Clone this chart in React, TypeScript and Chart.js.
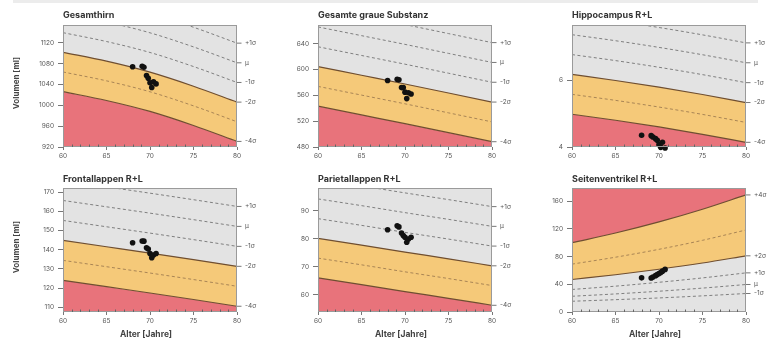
import React, { useEffect, useRef } from 'react';
import { Chart, registerables } from 'chart.js';

Chart.register(...registerables);

// ---------- data ----------
const NORM_AGES = [60, 65, 70, 75, 80];
const PATIENT_AGES = [68.0, 69.1, 69.3, 69.6, 69.8, 70.0, 70.2, 70.4, 70.7];
const X_TICKS = [60, 65, 70, 75, 80];

// Gesamthirn
const GH_PLUS1 = [1214.7, 1197.7, 1176.7, 1149.7, 1119.2];
const GH_MU = [1177, 1160, 1139, 1112, 1081.5];
const GH_MINUS1 = [1139.3, 1122.3, 1101.3, 1074.3, 1043.8];
const GH_MINUS2 = [1101.6, 1084.6, 1063.6, 1036.6, 1006.1];
const GH_MINUS3 = [1063.9, 1046.9, 1025.9, 998.9, 968.4];
const GH_MINUS4 = [1026.2, 1009.2, 988.2, 961.2, 930.7];
const GH_PATIENT = [1074, 1075, 1073, 1057, 1052, 1043, 1034, 1045, 1041];
const GH_Y_TICKS = [920, 960, 1000, 1040, 1080, 1120];
const GH_Y_RANGE = [920, 1154];

// Gesamte graue Substanz
const GS_PLUS1 = [696.7, 683.2, 669.7, 655.7, 641.7];
const GS_MU = [666, 652.5, 639, 625, 611];
const GS_MINUS1 = [635.3, 621.8, 608.3, 594.3, 580.3];
const GS_MINUS2 = [604.6, 591.1, 577.6, 563.6, 549.6];
const GS_MINUS3 = [573.9, 560.4, 546.9, 532.9, 518.9];
const GS_MINUS4 = [543.2, 529.7, 516.2, 502.2, 488.2];
const GS_PATIENT = [583, 585, 584, 572, 572, 565, 555, 564, 562];
const GS_Y_TICKS = [480, 520, 560, 600, 640];
const GS_Y_RANGE = [480, 669];

// Hippocampus R+L
const HC_PLUS1 = [7.955, 7.775, 7.575, 7.355, 7.115];
const HC_MU = [7.36, 7.18, 6.98, 6.76, 6.52];
const HC_MINUS1 = [6.765, 6.585, 6.385, 6.165, 5.925];
const HC_MINUS2 = [6.17, 5.99, 5.79, 5.57, 5.33];
const HC_MINUS3 = [5.575, 5.395, 5.195, 4.975, 4.735];
const HC_MINUS4 = [4.98, 4.8, 4.6, 4.38, 4.14];
const HC_PATIENT = [4.35, 4.34, 4.3, 4.25, 4.2, 4.07, 3.99, 4.14, 3.97];
const HC_Y_TICKS = [4, 6];
const HC_Y_RANGE = [4, 7.65];

// Frontallappen R+L
const FL_PLUS1 = [176, 172.7, 169.4, 166, 162.5];
const FL_MU = [165.6, 162.3, 159, 155.6, 152.1];
const FL_MINUS1 = [155.2, 151.9, 148.6, 145.2, 141.7];
const FL_MINUS2 = [144.8, 141.5, 138.2, 134.8, 131.3];
const FL_MINUS3 = [134.4, 131.1, 127.8, 124.4, 120.9];
const FL_MINUS4 = [124, 120.7, 117.4, 114, 110.5];
const FL_PATIENT = [143.6, 144.5, 144.4, 141, 140.3, 138, 135.8, 137.2, 138];
const FL_Y_TICKS = [110, 120, 130, 140, 150, 160, 170];
const FL_Y_RANGE = [107.5, 172.1];

// Parietallappen R+L
const PL_PLUS1 = [101.25, 98.85, 96.35, 93.95, 91.45];
const PL_MU = [94.2, 91.8, 89.3, 86.9, 84.4];
const PL_MINUS1 = [87.15, 84.75, 82.25, 79.85, 77.35];
const PL_MINUS2 = [80.1, 77.7, 75.2, 72.8, 70.3];
const PL_MINUS3 = [73.05, 70.65, 68.15, 65.75, 63.25];
const PL_MINUS4 = [66, 63.6, 61.1, 58.7, 56.2];
const PL_PATIENT = [83.2, 84.6, 84.2, 82, 81.1, 80.5, 78.7, 79.9, 80.5];
const PL_Y_TICKS = [60, 70, 80, 90];
const PL_Y_RANGE = [53.8, 98.1];

// Seitenventrikel R+L
const SV_PLUS4 = [100, 114, 130, 148.3, 169];
const SV_PLUS3 = [69.1, 79.1, 90.5, 103.5, 118.4];
const SV_PLUS2 = [46.9, 53.8, 61.7, 70.7, 81.1];
const SV_PLUS1 = [32.5, 37.3, 42.9, 49.2, 56.5];
const SV_MU = [22.7, 26.1, 30.0, 34.5, 39.7];
const SV_MINUS1 = [15.5, 17.8, 20.3, 23.3, 26.7];
const SV_PATIENT = [49.3, 49, 50.5, 52.5, 54, 55.5, 57, 59, 61.5];
const SV_Y_TICKS = [0, 40, 80, 120, 160];
const SV_Y_RANGE = [0, 179];

// ---------- styles ----------
const FONT = 'Inter, "Noto Sans", sans-serif';
const GRAY = '#e3e3e3';
const ORANGE = '#f5c979';
const RED = '#e8737b';
const SOLID = '#6f4e30';
const DASH = '#7f7f7f';
const WARM = '#a98555';

type Kind = 'dash' | 'warm' | 'solid';
interface Curve { values: number[]; kind: Kind; label?: string; fill?: number | string | false; fillColor?: string }
interface Panel {
  title: string; col: number; row: number;
  yRange: number[]; yTicks: number[]; curves: Curve[]; patient: number[];
}

const COLS = [
  { left: 0, width: 275, plotLeft: 63, plotRight: 237 },
  { left: 258, width: 275, plotLeft: 318, plotRight: 492 },
  { left: 512, width: 257, plotLeft: 572, plotRight: 746 },
];
const ROWS = [
  { top: 0, height: 170, plotTop: 25, plotBottom: 147, titleY: 15 },
  { top: 170, height: 176, plotTop: 188, plotBottom: 312, titleY: 179.5 },
];

function lowCurves(p1: number[], mu: number[], m1: number[], m2: number[], m3: number[], m4: number[]): Curve[] {
  return [
    { values: p1, kind: 'dash', label: '+1σ' },
    { values: mu, kind: 'dash', label: 'μ' },
    { values: m1, kind: 'dash', label: '-1σ' },
    { values: m2, kind: 'solid', label: '-2σ', fill: 5, fillColor: ORANGE },
    { values: m3, kind: 'warm' },
    { values: m4, kind: 'solid', label: '-4σ', fill: 'start', fillColor: RED },
  ];
}

const PANELS: Panel[] = [
  { title: 'Gesamthirn', col: 0, row: 0, yRange: GH_Y_RANGE, yTicks: GH_Y_TICKS, patient: GH_PATIENT,
    curves: lowCurves(GH_PLUS1, GH_MU, GH_MINUS1, GH_MINUS2, GH_MINUS3, GH_MINUS4) },
  { title: 'Gesamte graue Substanz', col: 1, row: 0, yRange: GS_Y_RANGE, yTicks: GS_Y_TICKS, patient: GS_PATIENT,
    curves: lowCurves(GS_PLUS1, GS_MU, GS_MINUS1, GS_MINUS2, GS_MINUS3, GS_MINUS4) },
  { title: 'Hippocampus R+L', col: 2, row: 0, yRange: HC_Y_RANGE, yTicks: HC_Y_TICKS, patient: HC_PATIENT,
    curves: lowCurves(HC_PLUS1, HC_MU, HC_MINUS1, HC_MINUS2, HC_MINUS3, HC_MINUS4) },
  { title: 'Frontallappen R+L', col: 0, row: 1, yRange: FL_Y_RANGE, yTicks: FL_Y_TICKS, patient: FL_PATIENT,
    curves: lowCurves(FL_PLUS1, FL_MU, FL_MINUS1, FL_MINUS2, FL_MINUS3, FL_MINUS4) },
  { title: 'Parietallappen R+L', col: 1, row: 1, yRange: PL_Y_RANGE, yTicks: PL_Y_TICKS, patient: PL_PATIENT,
    curves: lowCurves(PL_PLUS1, PL_MU, PL_MINUS1, PL_MINUS2, PL_MINUS3, PL_MINUS4) },
  { title: 'Seitenventrikel R+L', col: 2, row: 1, yRange: SV_Y_RANGE, yTicks: SV_Y_TICKS, patient: SV_PATIENT,
    curves: [
      { values: SV_PLUS4, kind: 'solid', label: '+4σ', fill: 'end', fillColor: RED },
      { values: SV_PLUS3, kind: 'warm' },
      { values: SV_PLUS2, kind: 'solid', label: '+2σ', fill: 0, fillColor: ORANGE },
      { values: SV_PLUS1, kind: 'dash', label: '+1σ' },
      { values: SV_MU, kind: 'dash', label: 'μ' },
      { values: SV_MINUS1, kind: 'dash', label: '-1σ' },
    ] },
];

function PanelChart({ p }: { p: Panel }) {
  const ref = useRef<HTMLCanvasElement>(null);
  const col = COLS[p.col];
  const row = ROWS[p.row];

  useEffect(() => {
    const canvas = ref.current!;
    const datasets: any[] = p.curves.map((c) => ({
      type: 'line',
      data: NORM_AGES.map((a, i) => ({ x: a, y: c.values[i] })),
      borderColor: c.kind === 'solid' ? SOLID : c.kind === 'warm' ? WARM : DASH,
      borderWidth: c.kind === 'solid' ? 1.2 : 1,
      borderDash: c.kind === 'solid' ? [] : [3, 2.5],
      pointRadius: 0,
      cubicInterpolationMode: 'monotone',
      fill: c.fill ?? false,
      backgroundColor: c.fillColor ?? 'transparent',
      order: 1,
    }));
    datasets.push({
      type: 'scatter',
      data: PATIENT_AGES.map((a, i) => ({ x: a, y: p.patient[i] })),
      pointRadius: 2.8,
      backgroundColor: '#111',
      borderColor: '#111',
      borderWidth: 0,
      clip: false,
      order: 0,
    });

    const deco = {
      id: 'deco',
      beforeDraw(chart: any) {
        const { ctx, chartArea: a } = chart;
        ctx.save();
        ctx.fillStyle = GRAY;
        ctx.fillRect(a.left, a.top, a.right - a.left, a.bottom - a.top);
        ctx.restore();
      },
      afterDatasetsDraw(chart: any) {
        const { ctx, chartArea: a } = chart;
        const xs = chart.scales.x;
        const ys = chart.scales.y;
        ctx.save();
        // frame
        ctx.strokeStyle = '#9a9a9a';
        ctx.lineWidth = 1;
        ctx.strokeRect(a.left + 0.5, a.top + 0.5, a.right - a.left - 1, a.bottom - a.top - 1);
        // minor ticks
        ctx.strokeStyle = '#666';
        for (let v = 61; v < 80; v++) {
          if (v % 5 === 0) continue;
          const x = Math.round(xs.getPixelForValue(v)) + 0.5;
          ctx.beginPath();
          ctx.moveTo(x, a.bottom);
          ctx.lineTo(x, a.bottom - 2.5);
          ctx.stroke();
        }
        // right labels
        ctx.font = `6.5px ${FONT}`;
        ctx.fillStyle = '#555';
        ctx.textBaseline = 'middle';
        ctx.textAlign = 'left';
        p.curves.forEach((c) => {
          if (!c.label) return;
          const y = ys.getPixelForValue(c.values[c.values.length - 1]);
          ctx.strokeStyle = '#777';
          ctx.beginPath();
          ctx.moveTo(a.right, y);
          ctx.lineTo(a.right + 4.5, y);
          ctx.stroke();
          ctx.fillText(c.label, a.right + 8, y);
        });
        ctx.restore();
      },
      afterDraw(chart: any) {
        const { ctx, chartArea: a } = chart;
        ctx.save();
        ctx.fillStyle = '#333';
        ctx.textBaseline = 'middle';
        ctx.textAlign = 'left';
        ctx.font = `bold 9px ${FONT}`;
        ctx.fillText(p.title, a.left, row.titleY - row.top);
        if (p.col === 0) {
          ctx.save();
          ctx.translate(17, (a.top + a.bottom) / 2 - 3);
          ctx.rotate(-Math.PI / 2);
          ctx.textAlign = 'center';
          ctx.font = `bold 8px ${FONT}`;
          ctx.fillStyle = '#444';
          ctx.fillText('Volumen [ml]', 0, 0);
          ctx.restore();
        }
        if (p.row === 1) {
          ctx.textAlign = 'center';
          ctx.font = `bold 8.5px ${FONT}`;
          ctx.fillStyle = '#444';
          ctx.fillText('Alter [Jahre]', (a.left + a.right) / 2 - 4, 334.7 - row.top);
        }
        ctx.restore();
      },
    };

    const chart = new Chart(canvas, {
      type: 'line',
      data: { datasets },
      options: {
        responsive: false,
        animation: false,
        events: [],
        layout: {
          padding: { top: row.plotTop - row.top, right: col.left + col.width - col.plotRight, bottom: 0, left: 0 },
        },
        plugins: {
          legend: { display: false },
          tooltip: { enabled: false },
          title: { display: false },
          filler: { drawTime: 'beforeDatasetsDraw' },
        },
        scales: {
          x: {
            type: 'linear',
            min: 60,
            max: 80,
            afterFit: (s: any) => { s.height = row.top + row.height - row.plotBottom; },
            afterBuildTicks: (s: any) => { s.ticks = X_TICKS.map((v) => ({ value: v })); },
            ticks: { font: { size: 6.5, family: FONT }, color: '#555', padding: 2, maxRotation: 0, callback: (v: any) => String(v) },
            grid: { drawOnChartArea: false, tickLength: 3, color: '#777' },
            border: { display: false },
          },
          y: {
            type: 'linear',
            min: p.yRange[0],
            max: p.yRange[1],
            afterFit: (s: any) => { s.width = col.plotLeft - col.left; },
            afterBuildTicks: (s: any) => { s.ticks = p.yTicks.map((v) => ({ value: v })); },
            ticks: { font: { size: 6.5, family: FONT }, color: '#555', padding: 4, callback: (v: any) => String(v) },
            grid: { drawOnChartArea: false, tickLength: 5, color: '#777' },
            border: { display: false },
          },
        },
      } as any,
      plugins: [deco],
    });
    return () => chart.destroy();
  }, []);

  return (
    <canvas
      ref={ref}
      width={col.width}
      height={row.height}
      style={{ position: 'absolute', left: col.left, top: row.top, width: col.width, height: row.height }}
    />
  );
}

export default function App() {
  useEffect(() => { document.body.style.margin = '0'; }, []);
  return (
    <div style={{ position: 'fixed', left: 0, top: 0, width: 769, height: 346, background: '#fff', overflow: 'hidden' }}>
      <div style={{ position: 'absolute', left: 13, top: 0, width: 745, height: 3, background: '#ececec' }} />
      {PANELS.map((p, i) => <PanelChart key={i} p={p} />)}
    </div>
  );
}
